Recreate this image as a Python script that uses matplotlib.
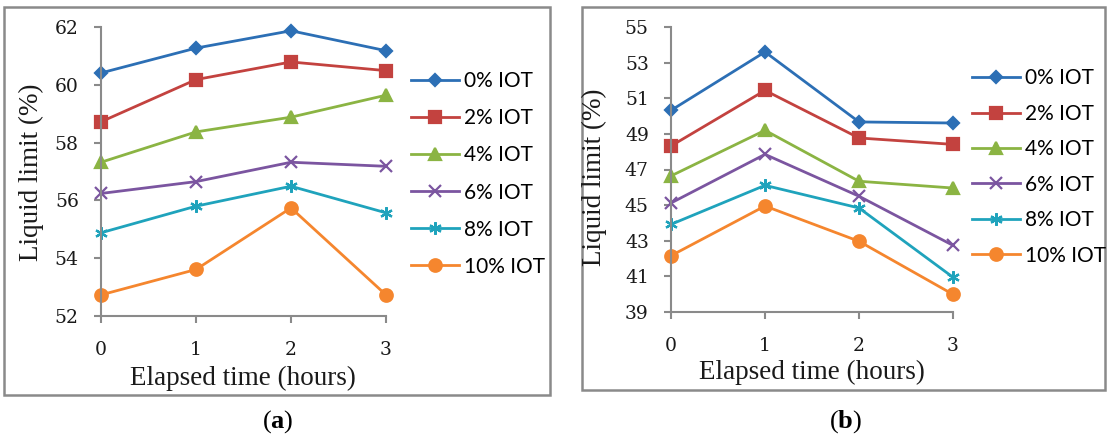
import matplotlib.pyplot as plt
from matplotlib.patches import Rectangle

plt.rcParams['mathtext.fontset'] = 'custom'
plt.rcParams['mathtext.rm'] = 'Liberation Serif'
plt.rcParams['mathtext.bf'] = 'Liberation Serif:bold'

hours = [0, 1, 2, 3]
labels = ['0% IOT', '2% IOT', '4% IOT', '6% IOT', '8% IOT', '10% IOT']

# (a) liquid limit vs elapsed time
ll_a_0 = [60.41, 61.27, 61.87, 61.18]
ll_a_2 = [58.72, 60.18, 60.79, 60.49]
ll_a_4 = [57.32, 58.37, 58.88, 59.64]
ll_a_6 = [56.24, 56.65, 57.32, 57.18]
ll_a_8 = [54.88, 55.80, 56.49, 55.57]
ll_a_10 = [52.73, 53.61, 55.74, 52.73]

# (b) liquid limit vs elapsed time
ll_b_0 = [50.32, 53.60, 49.67, 49.61]
ll_b_2 = [48.32, 51.44, 48.77, 48.41]
ll_b_4 = [46.64, 49.20, 46.34, 45.96]
ll_b_6 = [45.12, 47.85, 45.50, 42.74]
ll_b_8 = [43.92, 46.11, 44.84, 40.95]
ll_b_10 = [42.16, 44.95, 42.97, 39.99]

colors = ['#2C6FB5', '#C3423F', '#8BB443', '#7B55A0', '#1FA3BC', '#F5862E']
markers = ['D', 's', '^', 'x', (6, 2, 0), 'o']
msizes = [6.5, 9, 9, 8, 9, 9]

serif = 'Liberation Serif'
tickfont = 'DejaVu Serif'
gray = '#8a8a8a'

fig = plt.figure(figsize=(11.1, 4.42), dpi=100)
W, H = 1110, 442


def px(x0, y0, x1, y1):
    # pixel box (top-left origin) -> figure fraction rect
    return [x0 / W, 1 - y1 / H, (x1 - x0) / W, (y1 - y0) / H]


# panel frames
for (x0, y0, x1, y1) in [(4, 7, 550, 395), (582, 7, 1105, 390)]:
    fig.patches.append(Rectangle((x0 / W, 1 - y1 / H), (x1 - x0) / W, (y1 - y0) / H,
                                 transform=fig.transFigure, fill=False,
                                 edgecolor='#8a8a8a', linewidth=1.8))

panels = [
    dict(rect=px(101, 27, 386, 316), data=[ll_a_0, ll_a_2, ll_a_4, ll_a_6, ll_a_8, ll_a_10],
         ylim=(52, 62), yticks=range(52, 63, 2), leg=(411, 174), lsp=0.82,
         ylab=(31, 172), xlab=(243, 378), cap=(278, 422), tag='a'),
    dict(rect=px(671, 27, 953, 312), data=[ll_b_0, ll_b_2, ll_b_4, ll_b_6, ll_b_8, ll_b_10],
         ylim=(39, 55), yticks=range(39, 56, 2), leg=(972, 167), lsp=0.74,
         ylab=(594, 177), xlab=(812, 372), cap=(846, 422), tag='b'),
]

for p in panels:
    ax = fig.add_axes(p['rect'])
    for vals, lab, c, m, ms in zip(p['data'], labels, colors, markers, msizes):
        ax.plot(hours, vals, color=c, lw=2.0, marker=m, ms=ms, mew=1.6,
                mfc=c, mec=c, label=lab, clip_on=False)
    ax.set_xlim(0, 3)
    ax.set_ylim(*p['ylim'])
    ax.set_xticks(hours)
    ax.set_yticks(list(p['yticks']))
    for s in ['top', 'right']:
        ax.spines[s].set_visible(False)
    for s in ['left', 'bottom']:
        ax.spines[s].set_color(gray)
        ax.spines[s].set_linewidth(1.5)
    ax.tick_params(direction='out', length=5, width=1.5, color=gray,
                   labelsize=13.5, labelcolor='#1a1a1a')
    ax.tick_params(axis='y', pad=11)
    ax.tick_params(axis='x', pad=13)
    for t in ax.get_xticklabels() + ax.get_yticklabels():
        t.set_fontfamily(tickfont)

    # axis titles placed in figure pixels
    yx, yy = p['ylab']
    fig.text(yx / W, 1 - yy / H, 'Liquid limit (%)', fontsize=19.5, fontfamily=serif,
             rotation=90, ha='center', va='center', color='#1a1a1a')
    xx, xy = p['xlab']
    fig.text(xx / W, 1 - xy / H, 'Elapsed time (hours)', fontsize=19.5,
             fontfamily=serif, ha='center', va='center', color='#1a1a1a')

    lx, ly = p['leg']
    fig.legend(*ax.get_legend_handles_labels(), loc='center left',
               bbox_to_anchor=(lx / W, 1 - ly / H), frameon=False,
               prop={'family': 'Lato', 'size': 15}, handlelength=2.3,
               handletextpad=0.25, labelspacing=p['lsp'], borderpad=0,
               borderaxespad=0)

    cx, cy = p['cap']
    fig.text(cx / W, 1 - cy / H, r'$(\mathbf{%s})$' % p['tag'], fontsize=19,
             ha='center', va='center')

fig.savefig('out.png', dpi=100)
